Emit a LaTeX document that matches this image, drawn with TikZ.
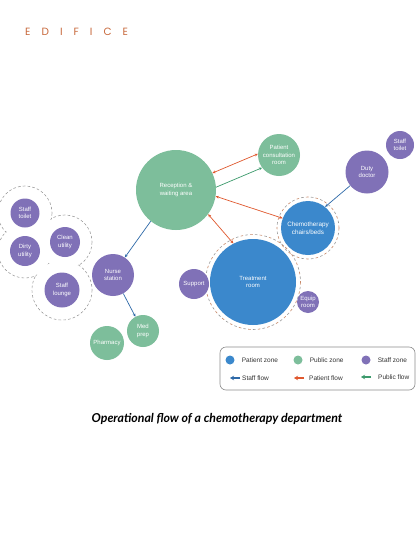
\documentclass[tikz,border=0pt]{standalone}
\usepackage{fontspec}
\setmainfont{Liberation Sans}
\newfontfamily\captionfont{Lato}
\newfontfamily\logofont[LetterSpace=105]{Poppins}
\usetikzlibrary{positioning, arrows.meta}
\definecolor{patientblue}{HTML}{3B88CC}
\definecolor{publicgreen}{HTML}{7DBE9B}
\definecolor{staffpurple}{HTML}{8071B7}
\definecolor{staffline}{HTML}{2E69A8}
\definecolor{patientline}{HTML}{E0582E}
\definecolor{publicline}{HTML}{3C9A6C}
\definecolor{logoorange}{HTML}{C8693C}
\definecolor{ringgray}{HTML}{9A9A9A}
\definecolor{ringbrown}{HTML}{C88A6A}

\begin{document}
\begin{tikzpicture}[
  x=1pt, y=-1pt,
  every node/.style={font=\fontsize{6}{7.6}\selectfont},
  zone/.style={circle, inner sep=0pt, text=white, align=center},
  patient/.style={zone, fill=patientblue},
  public/.style={zone, fill=publicgreen},
  staff/.style={zone, fill=staffpurple},
  ringline/.style={ringgray, line width=0.6pt, dash pattern=on 2.6pt off 2.2pt},
  staffflow/.style={-{Stealth[length=3.2pt, width=2.8pt]}, draw=staffline, line width=0.7pt},
  patientflow/.style={{Stealth[length=3.2pt, width=2.8pt]}-{Stealth[length=3.2pt, width=2.8pt]}, draw=patientline, line width=0.7pt},
  publicflow/.style={-{Stealth[length=3.2pt, width=2.8pt]}, draw=publicline, line width=0.7pt},
  legarr/.style={-{Stealth[length=4pt, width=4.5pt]}, line width=1.4pt},
  legtext/.style={anchor=west, inner sep=0pt, font=\fontsize{6.5}{7}\selectfont, text=black!80}
]
  \useasboundingbox[fill=white] (0,0) rectangle (420,560);

  \node[font=\logofont\fontsize{10.5}{11}\selectfont, text=logoorange, anchor=west, inner sep=0pt] (logo) at (25,32) {EDIFICE};

  % staff support cluster
  \foreach \cx/\cy/\r in {25/213/27, 25/251/27, 65/242/27, 62/290/30}
    \draw[ringline] (\cx,\cy) circle[radius=\r];
  \foreach \cx/\cy/\r in {25/213/27, 25/251/27, 65/242/27, 62/290/30}
    \fill[white] (\cx,\cy) circle[radius=\r-0.7];

  % patient zone rings
  \foreach \cx/\cy/\r in {253/282/47.5, 308/228/31} {
    \draw[ringbrown, line width=0.6pt, dash pattern=on 2.6pt off 7pt] (\cx,\cy) circle[radius=\r];
    \draw[ringgray, line width=0.6pt, dash pattern=on 2.6pt off 7pt, dash phase=4.8pt] (\cx,\cy) circle[radius=\r];
  }

  \node[public, minimum size=80pt]  (reception) at (176,190) {Reception \&\\waiting area};
  \node[public, minimum size=42pt]  (consult)   at (279,155) {Patient\\consultation\\room};
  \node[staff, minimum size=43pt]   (doctor)    at (367,172) {Duty\\doctor};
  \node[staff, minimum size=28pt]   (toiletR)   at (400,145) {Staff\\toilet};
  \node[patient, minimum size=54pt, font=\fontsize{6.3}{7.8}\selectfont] (chemo) at (308,228) {Chemotherapy\\chairs/beds};
  \node[patient, minimum size=86pt] (treatment) at (253,282) {Treatment\\room};
  \node[staff, minimum size=30pt]   (support)   at (194,284) {Support};
  \node[staff, minimum size=22pt]   (equip)     at (308,302) {Equip\\room};
  \node[staff, minimum size=42pt]   (nurse)     at (113,275) {Nurse\\station};
  \node[staff, minimum size=29pt]   (toiletL)   at (25,213)  {Staff\\toilet};
  \node[staff, minimum size=30pt]   (dirty)     at (25,251)  {Dirty\\utility};
  \node[staff, minimum size=30pt]   (clean)     at (65,242)  {Clean\\utility};
  \node[staff, minimum size=35pt]   (lounge)    at (62,290)  {Staff\\lounge};
  \node[public, minimum size=32pt]  (medprep)   at (143,331) {Med\\prep};
  \node[public, minimum size=34pt]  (pharmacy)  at (107,343) {Pharmacy};

  \draw[patientflow] (reception.25)  -- (consult.177);
  \draw[publicflow]  (reception.4)   -- (consult.217);
  \draw[patientflow] (reception.351) -- (chemo.159);
  \draw[patientflow] (reception.323) -- (treatment.117);
  \draw[staffflow]   (reception.231) -- (nurse.56);
  \draw[staffflow]   (nurse.299)     -- (medprep.118);
  \draw[staffflow]   (doctor.219)    -- (chemo.51);

  % legend
  \draw[black!45, line width=0.6pt, rounded corners=6pt] (220,347) rectangle (415,390);
  \node[patient, minimum size=9pt] (legpatient) at (230,360) {};
  \node[legtext, right=7pt of legpatient] {Patient zone};
  \node[public, minimum size=9pt]  (legpublic)  at (298,360) {};
  \node[legtext, right=7pt of legpublic] {Public zone};
  \node[staff, minimum size=9pt]   (legstaff)   at (366,360) {};
  \node[legtext, right=7pt of legstaff] {Staff zone};

  \coordinate (lsa) at (240,378); \coordinate (lsb) at (230,378);
  \coordinate (lpa) at (304,378); \coordinate (lpb) at (294,378);
  \coordinate (lga) at (371,377); \coordinate (lgb) at (361,377);
  \draw[legarr, staffline]   (lsa) -- (lsb);
  \draw[legarr, patientline] (lpa) -- (lpb);
  \draw[legarr, publicline]  (lga) -- (lgb);
  \node[legtext, right=2pt of lsa] {Staff flow};
  \node[legtext, right=5pt of lpa] {Patient flow};
  \node[legtext, right=7pt of lga] {Public flow};

  \node[font=\captionfont\bfseries\itshape\fontsize{12.3}{14}\selectfont] (caption) at (217,419) {Operational flow of a chemotherapy department};
\end{tikzpicture}
\end{document}
